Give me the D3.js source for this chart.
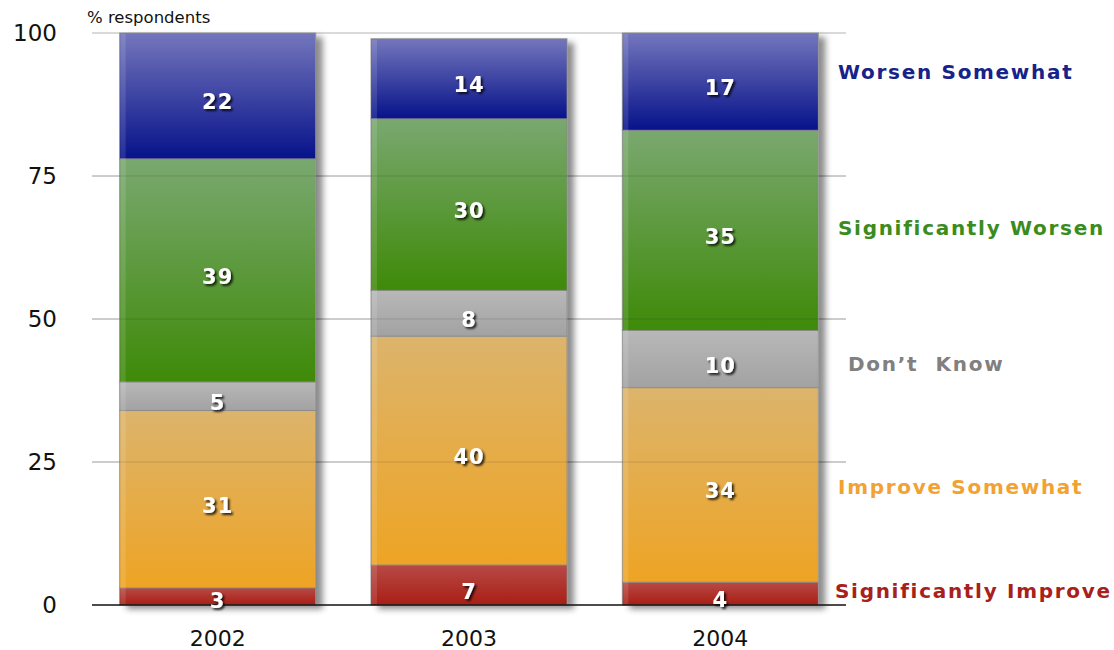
<!DOCTYPE html>
<html>
<head>
<meta charset="utf-8">
<script src="https://cdn.jsdelivr.net/npm/d3@7"></script>
<style>
  body { margin: 0; background: #fff; }
  text { font-family: "DejaVu Sans", sans-serif; }
</style>
</head>
<body>
<svg id="chart"></svg>
<script>
var width = 1114;
var height = 650;

// data, bottom to top
var years = ["2002", "2003", "2004"];
var categories = ["Significantly Improve", "Improve Somewhat", "Don’t  Know", "Significantly Worsen", "Worsen Somewhat"];
var sigImprove = [3, 7, 4];
var improveSome = [31, 40, 34];
var dontKnow = [5, 8, 10];
var sigWorsen = [39, 30, 35];
var worsenSome = [22, 14, 17];
var yTicks = [0, 25, 50, 75, 100];

var series = [sigImprove, improveSome, dontKnow, sigWorsen, worsenSome];

// gradient top / bottom per category, plus legend text colour
var gradTop = ["#b84a46", "#dcb46c", "#b8b8b8", "#7aa870", "#7476bc"];
var gradBot = ["#a81e14", "#eea424", "#a2a2a2", "#3e8a08", "#06128a"];
var labelColor = ["#a8201c", "#f2a232", "#808080", "#3a8c1c", "#17228a"];
var legendNudge = [-3, 2, 5, -3, -10];
var legendX = [835, 838, 848, 838, 838];

var rows = years.map((y, i) => {
  var r = { year: y };
  categories.forEach((c, k) => r[c] = series[k][i]);
  return r;
});

var stacked = d3.stack().keys(categories)(rows);

var xScale = d3.scaleBand()
               .domain(years)
               .range([92, 846])
               .paddingInner(0.22)
               .paddingOuter(0.11);

var yScale = d3.scaleLinear()
               .domain([0, 100])
               .range([605, 33]);

var svg = d3.select("#chart")
            .attr("width", width)
            .attr("height", height);

var defs = svg.append("defs");

categories.forEach((c, k) => {
  var g = defs.append("linearGradient")
              .attr("id", "grad" + k)
              .attr("x1", 0).attr("y1", 0)
              .attr("x2", 0).attr("y2", 1);
  g.append("stop").attr("offset", "0%").attr("stop-color", gradTop[k]);
  g.append("stop").attr("offset", "100%").attr("stop-color", gradBot[k]);
});

var shadow = defs.append("filter")
                 .attr("id", "barShadow")
                 .attr("x", "-10%").attr("y", "-10%")
                 .attr("width", "130%").attr("height", "130%");
shadow.append("feDropShadow")
      .attr("dx", 7).attr("dy", 4)
      .attr("stdDeviation", 3)
      .attr("flood-color", "#000")
      .attr("flood-opacity", 0.45);

var textShadow = defs.append("filter")
                     .attr("id", "textShadow")
                     .attr("x", "-30%").attr("y", "-30%")
                     .attr("width", "170%").attr("height", "170%");
textShadow.append("feDropShadow")
          .attr("dx", 2).attr("dy", 2)
          .attr("stdDeviation", 1.2)
          .attr("flood-color", "#000")
          .attr("flood-opacity", 0.8);

// gridlines
svg.append("g")
   .selectAll("line")
   .data(yTicks.filter(d => d > 0))
   .enter()
   .append("line")
     .attr("x1", 92)
     .attr("x2", 846)
     .attr("y1", d => yScale(d))
     .attr("y2", d => yScale(d))
     .attr("stroke", "#b4b4b4")
     .attr("stroke-width", 1);

// y labels
svg.append("g")
   .selectAll("text")
   .data(yTicks)
   .enter()
   .append("text")
     .attr("x", 57)
     .attr("y", d => yScale(d))
     .attr("dy", "0.36em")
     .attr("text-anchor", "end")
     .attr("font-size", 23)
     .attr("fill", "#111")
     .text(d => d);

svg.append("text")
   .attr("x", 87)
   .attr("y", 23)
   .attr("font-size", 16.5)
   .attr("fill", "#111")
   .text("% respondents");

// bars
var barGroup = svg.append("g");

years.forEach((y, i) => {
  var top = d3.max(stacked, s => s[i][1]);
  barGroup.append("rect")
          .attr("x", xScale(y))
          .attr("y", yScale(top))
          .attr("width", xScale.bandwidth())
          .attr("height", yScale(0) - yScale(top))
          .attr("fill", "#fff")
          .attr("filter", "url(#barShadow)");
});

barGroup.selectAll(".layer")
  .data(stacked)
  .enter()
  .append("g")
    .classed("layer", true)
    .attr("fill", (d, k) => "url(#grad" + k + ")")
  .selectAll("rect")
  .data(d => d)
  .enter()
  .append("rect")
    .attr("x", d => xScale(d.data.year))
    .attr("y", d => yScale(d[1]))
    .attr("width", xScale.bandwidth())
    .attr("height", d => yScale(d[0]) - yScale(d[1]))
    .attr("stroke", "#8a8a8a")
    .attr("stroke-width", 1)
    .attr("stroke-opacity", 0.8);

// light left edge gloss
barGroup.selectAll(".gloss")
  .data(years)
  .enter()
  .append("rect")
    .classed("gloss", true)
    .attr("x", d => xScale(d) + 1)
    .attr("y", d => yScale(d3.max(stacked, s => s[years.indexOf(d)][1])) + 1)
    .attr("width", 5)
    .attr("height", d => yScale(0) - yScale(d3.max(stacked, s => s[years.indexOf(d)][1])) - 2)
    .attr("fill", "#fff")
    .attr("opacity", 0.12);

// faint gridlines over bars
svg.append("g")
   .selectAll("line")
   .data(yTicks.filter(d => d > 0 && d < 100))
   .enter()
   .append("line")
     .attr("x1", 92)
     .attr("x2", 846)
     .attr("y1", d => yScale(d))
     .attr("y2", d => yScale(d))
     .attr("stroke", "#000")
     .attr("stroke-opacity", 0.12);

// baseline
svg.append("line")
   .attr("x1", 92)
   .attr("x2", 846)
   .attr("y1", yScale(0))
   .attr("y2", yScale(0))
   .attr("stroke", "#111")
   .attr("stroke-width", 1.3);

// value labels
svg.append("g")
  .selectAll("g")
  .data(stacked)
  .enter()
  .append("g")
  .selectAll("text")
  .data(d => d)
  .enter()
  .append("text")
    .attr("x", d => xScale(d.data.year) + xScale.bandwidth() / 2)
    .attr("y", d => Math.min(yScale((d[0] + d[1]) / 2) + 6, yScale(0) - 5))
    .attr("dy", "0.36em")
    .attr("text-anchor", "middle")
    .attr("font-size", 21)
    .attr("font-weight", "bold")
    .attr("letter-spacing", 1)
    .attr("fill", "#fff")
    .attr("filter", "url(#textShadow)")
    .text(d => d[1] - d[0]);

// x labels
svg.append("g")
   .selectAll("text")
   .data(years)
   .enter()
   .append("text")
     .attr("x", d => xScale(d) + xScale.bandwidth() / 2)
     .attr("y", 638)
     .attr("dy", "0.36em")
     .attr("text-anchor", "middle")
     .attr("font-size", 22)
     .attr("fill", "#111")
     .text(d => d);

// category labels beside the last bar
var last = years.length - 1;
svg.append("g")
   .selectAll("text")
   .data(stacked)
   .enter()
   .append("text")
     .attr("x", (d, k) => legendX[k])
     .attr("y", (d, k) => yScale((d[last][0] + d[last][1]) / 2) + legendNudge[k])
     .attr("dy", "0.36em")
     .attr("font-size", 20)
     .attr("font-weight", "bold")
     .attr("letter-spacing", 1.7)
     .attr("fill", (d, k) => labelColor[k])
     .style("white-space", "pre")
     .text(d => d.key);
</script>
</body>
</html>
